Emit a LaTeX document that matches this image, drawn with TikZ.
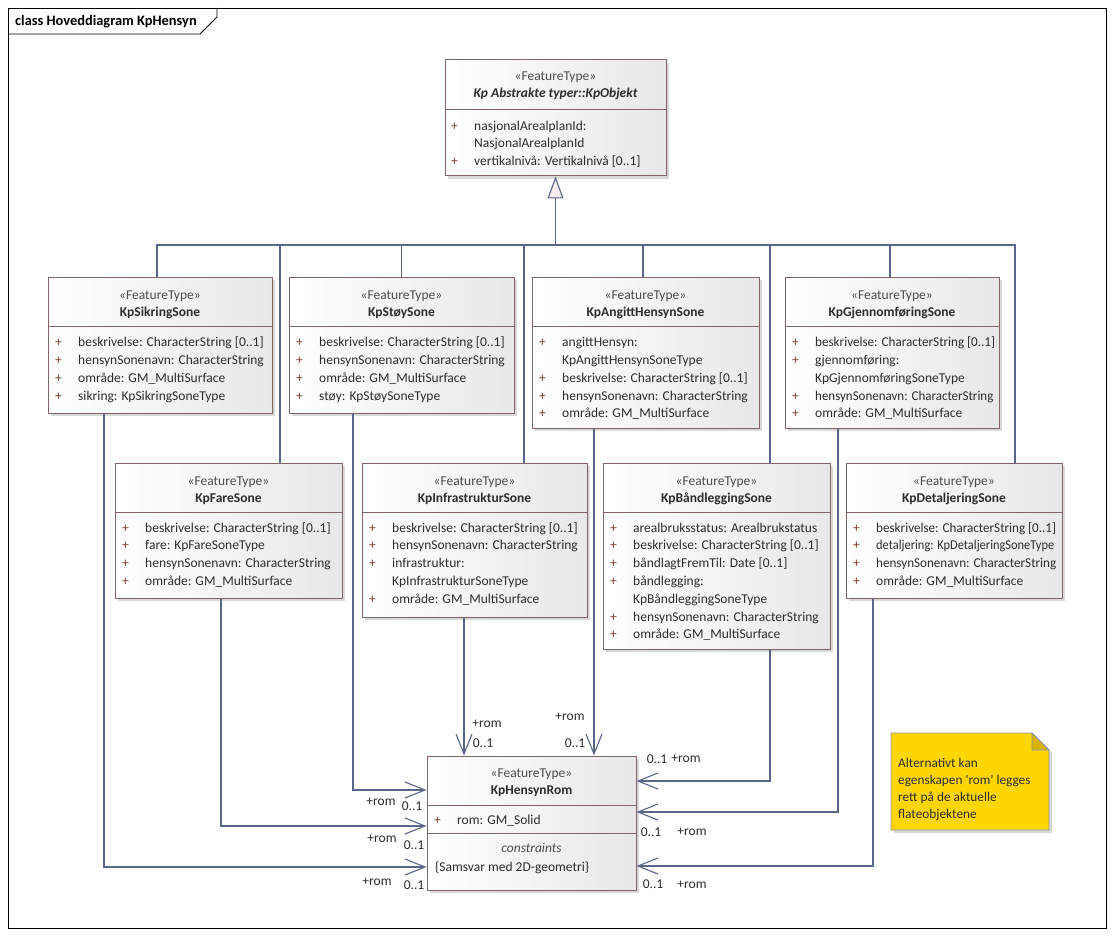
\documentclass[tikz,border=0pt]{standalone}
\usepackage{fontspec}
\setmainfont{Carlito}
\usepackage{array}
\usepackage{graphicx}
\usetikzlibrary{arrows.meta, shadows}
\definecolor{kant}{RGB}{130,100,100}
\definecolor{linje}{RGB}{90,102,135}
\definecolor{pluss}{RGB}{120,60,45}
\definecolor{tekst}{RGB}{45,45,45}
\definecolor{notatgul}{RGB}{255,214,0}
\definecolor{brett}{RGB}{214,178,0}
\definecolor{pil}{RGB}{246,238,236}
\def\fnt{\fontsize{13.5}{17.8}\selectfont}
\def\smal#1#2{\scalebox{#1}[1]{#2}}
\newcolumntype{A}{@{}>{\color{pluss}}w{l}{23pt}@{}l@{}}
\tikzstyle{klasse} = [rectangle, draw=kant, line width=1pt, left color=white, right color=black!9, drop shadow={shadow xshift=3pt, shadow yshift=-3pt, fill=black!30}, inner sep=0pt]
\tikzstyle{stereo} = [font=\fnt, text=black!70, inner sep=0pt, anchor=base]
\tikzstyle{navn} = [font=\fnt\bfseries, text=tekst, inner sep=0pt, anchor=base]
\tikzstyle{attr} = [font=\fnt, text=tekst, inner sep=0pt, anchor=north west]
\tikzstyle{skille} = [draw=kant, line width=1pt]
\tikzstyle{tre} = [draw=linje, line width=1.1pt]
\tikzstyle{arv} = [tre, -{Triangle[open, fill=pil, length=22pt, width=16pt]}]
\tikzstyle{assos} = [tre, -{Straight Barb[length=20pt, width=16pt]}]
\tikzstyle{rolle} = [font=\fnt, text=tekst, inner sep=0pt, anchor=base]

\begin{document}
\begin{tikzpicture}[x=1pt, y=-1pt]

  \fill[white] (0,0) rectangle (1114,936);
  \useasboundingbox (0,0) rectangle (1114,936);

  % ramme
  \draw[line width=0.8pt] (8,8) rectangle (1106,928);
  \draw[line width=0.8pt] (8,34) -- (200,34) -- (217,17) -- (217,8);
  \node (tittel) [font=\fontsize{14.4}{16}\selectfont\bfseries, inner sep=0pt, anchor=base west] at (15,26) {class Hoveddiagram KpHensyn};

  % KpObjekt
  \node (objekt) [klasse, minimum width=221, minimum height=116] at (555.5,118) {};
  \node (objekt-st) [stereo] at (555.5,80.5) {«FeatureType»};
  \node (objekt-navn) [navn, font=\fnt\bfseries\itshape] at (555.5,97.5) {Kp Abstrakte typer::KpObjekt};
  \draw[skille] ([yshift=-50pt]objekt.north west) -- ([yshift=-50pt]objekt.north east);
  \node (objekt-attr) [attr] at (451,117.5) {\begin{tabular}{A}
    + & nasjonalArealplanId:\\
      & NasjonalArealplanId\\
    + & vertikalnivå: Vertikalnivå [0..1]
  \end{tabular}};

  % øverste rad
  \node (sikring) [klasse, minimum width=224, minimum height=136] at (160,345) {};
  \node (sikring-st) [stereo] at (160,299) {«FeatureType»};
  \node (sikring-navn) [navn] at (160,316) {KpSikringSone};
  \draw[skille] ([yshift=-50pt]sikring.north west) -- ([yshift=-50pt]sikring.north east);
  \node (sikring-attr) [attr] at (55,334) {\begin{tabular}{A}
    + & beskrivelse: CharacterString [0..1]\\
    + & hensynSonenavn: CharacterString\\
    + & område: GM\_MultiSurface\\
    + & sikring: KpSikringSoneType
  \end{tabular}};

  \node (stoy) [klasse, minimum width=225, minimum height=136] at (401.5,345) {};
  \node (stoy-st) [stereo] at (401.5,299) {«FeatureType»};
  \node (stoy-navn) [navn] at (401.5,316) {KpStøySone};
  \draw[skille] ([yshift=-50pt]stoy.north west) -- ([yshift=-50pt]stoy.north east);
  \node (stoy-attr) [attr] at (296,334) {\begin{tabular}{A}
    + & beskrivelse: CharacterString [0..1]\\
    + & hensynSonenavn: CharacterString\\
    + & område: GM\_MultiSurface\\
    + & støy: KpStøySoneType
  \end{tabular}};

  \node (angitt) [klasse, minimum width=227, minimum height=151] at (645.5,352.5) {};
  \node (angitt-st) [stereo] at (645.5,299) {«FeatureType»};
  \node (angitt-navn) [navn] at (645.5,316) {KpAngittHensynSone};
  \draw[skille] ([yshift=-50pt]angitt.north west) -- ([yshift=-50pt]angitt.north east);
  \node (angitt-attr) [attr] at (539,334) {\begin{tabular}{A}
    + & angittHensyn:\\
      & KpAngittHensynSoneType\\
    + & beskrivelse: CharacterString [0..1]\\
    + & hensynSonenavn: CharacterString\\
    + & område: GM\_MultiSurface
  \end{tabular}};

  \node (gjenn) [klasse, minimum width=214, minimum height=151] at (892,352.5) {};
  \node (gjenn-st) [stereo] at (892,299) {«FeatureType»};
  \node (gjenn-navn) [navn] at (892,316) {KpGjennomføringSone};
  \draw[skille] ([yshift=-50pt]gjenn.north west) -- ([yshift=-50pt]gjenn.north east);
  \node (gjenn-attr) [attr] at (792,334) {\begin{tabular}{A}
    + & \smal{0.97}{beskrivelse: CharacterString [0..1]}\\
    + & gjennomføring:\\
      & KpGjennomføringSoneType\\
    + & \smal{0.96}{hensynSonenavn: CharacterString}\\
    + & område: GM\_MultiSurface
  \end{tabular}};

  % midterste rad
  \node (fare) [klasse, minimum width=227, minimum height=135] at (228.5,530.5) {};
  \node (fare-st) [stereo] at (228.5,485) {«FeatureType»};
  \node (fare-navn) [navn] at (228.5,502) {KpFareSone};
  \draw[skille] ([yshift=-50pt]fare.north west) -- ([yshift=-50pt]fare.north east);
  \node (fare-attr) [attr] at (122,519.5) {\begin{tabular}{A}
    + & beskrivelse: CharacterString [0..1]\\
    + & fare: KpFareSoneType\\
    + & hensynSonenavn: CharacterString\\
    + & område: GM\_MultiSurface
  \end{tabular}};

  \node (infra) [klasse, minimum width=225, minimum height=154] at (474.5,540) {};
  \node (infra-st) [stereo] at (474.5,485) {«FeatureType»};
  \node (infra-navn) [navn] at (474.5,502) {KpInfrastrukturSone};
  \draw[skille] ([yshift=-50pt]infra.north west) -- ([yshift=-50pt]infra.north east);
  \node (infra-attr) [attr] at (369,519.5) {\begin{tabular}{A}
    + & beskrivelse: CharacterString [0..1]\\
    + & hensynSonenavn: CharacterString\\
    + & infrastruktur:\\
      & KpInfrastrukturSoneType\\
    + & område: GM\_MultiSurface
  \end{tabular}};

  \node (band) [klasse, minimum width=227, minimum height=186] at (716.5,556) {};
  \node (band-st) [stereo] at (716.5,485) {«FeatureType»};
  \node (band-navn) [navn] at (716.5,502) {KpBåndleggingSone};
  \draw[skille] ([yshift=-50pt]band.north west) -- ([yshift=-50pt]band.north east);
  \node (band-attr) [attr] at (610,519.5) {\begin{tabular}{A}
    + & arealbruksstatus: Arealbrukstatus\\
    + & beskrivelse: CharacterString [0..1]\\
    + & båndlagtFremTil: Date [0..1]\\
    + & båndlegging:\\
      & KpBåndleggingSoneType\\
    + & hensynSonenavn: CharacterString\\
    + & område: GM\_MultiSurface
  \end{tabular}};

  \node (detalj) [klasse, minimum width=216, minimum height=135] at (954,530.5) {};
  \node (detalj-st) [stereo] at (954,485) {«FeatureType»};
  \node (detalj-navn) [navn] at (954,502) {KpDetaljeringSone};
  \draw[skille] ([yshift=-50pt]detalj.north west) -- ([yshift=-50pt]detalj.north east);
  \node (detalj-attr) [attr] at (853,519.5) {\begin{tabular}{A}
    + & \smal{0.97}{beskrivelse: CharacterString [0..1]}\\
    + & \smal{0.92}{detaljering: KpDetaljeringSoneType}\\
    + & \smal{0.97}{hensynSonenavn: CharacterString}\\
    + & område: GM\_MultiSurface
  \end{tabular}};

  % KpHensynRom
  \node (rom) [klasse, minimum width=209, minimum height=134] at (531.5,823) {};
  \node (rom-st) [stereo] at (531.5,777) {«FeatureType»};
  \node (rom-navn) [navn] at (531.5,794) {KpHensynRom};
  \draw[skille] ([yshift=-50pt]rom.north west) -- ([yshift=-50pt]rom.north east);
  \draw[skille] ([yshift=-78pt]rom.north west) -- ([yshift=-78pt]rom.north east);
  \node (rom-attr) [attr] at (434,811.5) {\begin{tabular}{A}
    + & rom: GM\_Solid
  \end{tabular}};
  \node (rom-kr) [stereo, font=\fnt\itshape] at (531.5,852) {constraints};
  \node (rom-regel) [rolle, anchor=base west] at (435,871) {\{Samsvar med 2D-geometri\}};

  % notat
  \filldraw[draw=linje!70, fill=notatgul, line width=0.8pt, drop shadow={shadow xshift=3pt, shadow yshift=-3pt, fill=black!30}]
    (891,733) -- (1032,733) -- (1049,750) -- (1049,830) -- (891,830) -- cycle;
  \filldraw[draw=linje!70, fill=brett, line width=0.8pt] (1032,733) -- (1032,750) -- (1049,750) -- cycle;
  \node (notat) [attr, font=\fontsize{13.3}{17}\selectfont] at (898,755) {\begin{tabular}{@{}l@{}}
    Alternativt kan\\
    egenskapen \textquotesingle rom\textquotesingle{} legges\\
    rett på de aktuelle\\
    flateobjektene
  \end{tabular}};

  % generalisering
  \coordinate (buss) at (555.5,245);
  \draw[arv] (buss) -- (objekt.south);
  \draw[tre] ([xshift=-3pt]sikring.north) |- (buss);
  \draw[tre] ([xshift=51.5pt]fare.north) |- (buss);
  \draw[tre] (stoy.north) |- (buss);
  \draw[tre] ([xshift=49.5pt]infra.north) |- (buss);
  \draw[tre] ([xshift=-2.5pt]angitt.north) |- (buss);
  \draw[tre] ([xshift=53.5pt]band.north) |- (buss);
  \draw[tre] ([xshift=-2pt]gjenn.north) |- (buss);
  \draw[tre] ([xshift=61pt]detalj.north) |- (buss);

  % assosiasjoner til KpHensynRom
  \draw[assos] ([xshift=-10.5pt]infra.south) -- ([xshift=-67.5pt]rom.north);
  \draw[assos] ([xshift=-51.5pt]angitt.south) -- ([xshift=62.5pt]rom.north);
  \draw[assos] ([xshift=-48.5pt]stoy.south) |- ([yshift=33pt]rom.west);
  \draw[assos] ([xshift=-7.5pt]fare.south) |- ([yshift=-3pt]rom.west);
  \draw[assos] ([xshift=-56pt]sikring.south) |- ([yshift=-44pt]rom.west);
  \draw[assos] ([xshift=53.5pt]band.south) |- ([yshift=42pt]rom.east);
  \draw[assos] ([xshift=-54pt]gjenn.south) |- ([yshift=11pt]rom.east);
  \draw[assos] ([xshift=-81pt]detalj.south) |- ([yshift=-43pt]rom.east);

  \node (r1) [rolle] at (487,727) {+rom};
  \node (m1) [rolle] at (483,747) {0..1};
  \node (r2) [rolle] at (570,720) {+rom};
  \node (m2) [rolle] at (575,747) {0..1};
  \node (r3) [rolle] at (381,805) {+rom};
  \node (m3) [rolle] at (412,810) {0..1};
  \node (r4) [rolle] at (382,842) {+rom};
  \node (m4) [rolle] at (414,849) {0..1};
  \node (r5) [rolle] at (377,885) {+rom};
  \node (m5) [rolle] at (414,889) {0..1};
  \node (r6) [rolle] at (686,762) {+rom};
  \node (m6) [rolle] at (657,763) {0..1};
  \node (r7) [rolle] at (692,835) {+rom};
  \node (m7) [rolle] at (651,836) {0..1};
  \node (r8) [rolle] at (692,888) {+rom};
  \node (m8) [rolle] at (653,888) {0..1};

\end{tikzpicture}
\end{document}
